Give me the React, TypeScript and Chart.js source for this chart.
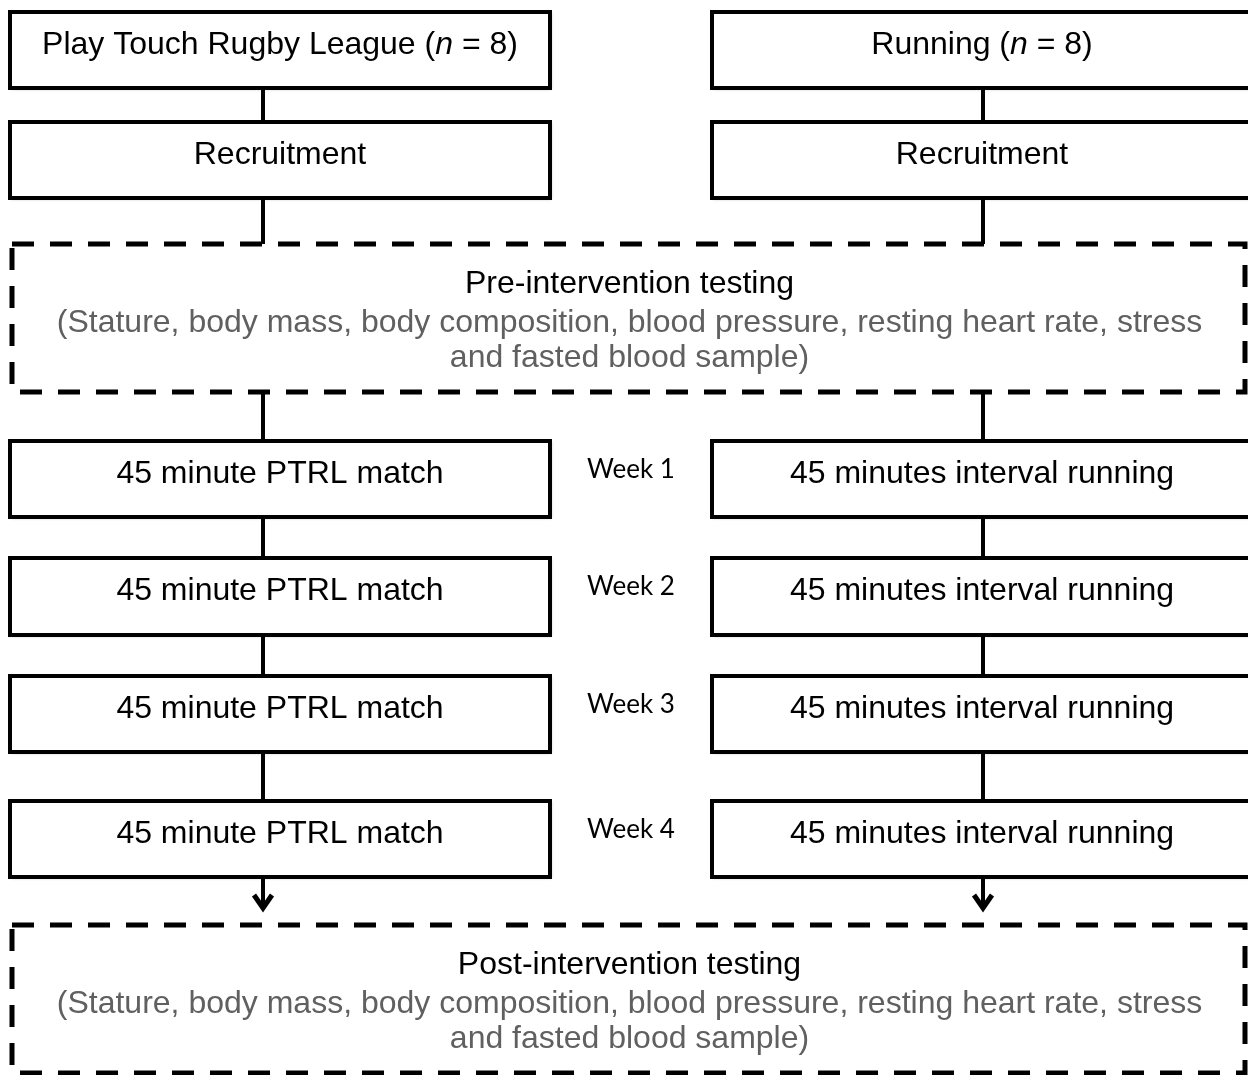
import React, { useEffect, useRef } from 'react';
import { Chart, registerables } from 'chart.js';

Chart.register(...registerables);

// ---- Content ----
const groupTitles: string[][] = [
  ['Play Touch Rugby League (', 'n', ' = 8)'],
  ['Running (', 'n', ' = 8)'],
];
const recruitmentLabels = ['Recruitment', 'Recruitment'];
const weekLabels = ['Week 1', 'Week 2', 'Week 3', 'Week 4'];
const sessionLabels = ['45 minute PTRL match', '45 minutes interval running'];
const testingTitles = ['Pre-intervention testing', 'Post-intervention testing'];
const testingDetails = [
  '(Stature, body mass, body composition, blood pressure, resting heart rate, stress',
  'and fasted blood sample)',
];

// ---- Layout (data units = pixels of the 1248x1075 figure) ----
const W = 1248;
const H = 1075;
const columns = [
  { x0: 10, x1: 550, lineX: 263, textX: 280 },
  { x0: 712, x1: 1252, lineX: 983, textX: 982 },
];
const topRow = [12, 88];
const recruitRow = [122, 198];
const preRow = [244, 392];
const weekRows = [
  [441, 517],
  [558, 635],
  [676, 752],
  [801, 877],
];
const postRow = [925, 1073];
const dashedX = [12, 1245];
const weekLabelX = 631;
const arrowTipY = 910;

const MAIN_FONT = '"Liberation Sans", Arial, sans-serif';
const WEEK_FONT = 'Lato, "Open Sans", sans-serif';
const FS = 32;

const flowPlugin = {
  id: 'flow',
  afterDraw(chart: any) {
    const ctx: CanvasRenderingContext2D = chart.ctx;
    const xs = chart.scales.x;
    const ys = chart.scales.y;
    const px = (v: number) => xs.getPixelForValue(v);
    const py = (v: number) => ys.getPixelForValue(v);

    ctx.save();
    ctx.fillStyle = '#ffffff';
    ctx.fillRect(0, 0, chart.width, chart.height);

    // connectors
    ctx.strokeStyle = '#000';
    ctx.lineWidth = 4;
    ctx.setLineDash([]);
    const segs: number[][] = [
      [topRow[1], recruitRow[0]],
      [recruitRow[1], preRow[0]],
      [preRow[1], weekRows[0][0]],
      [weekRows[0][1], weekRows[1][0]],
      [weekRows[1][1], weekRows[2][0]],
      [weekRows[2][1], weekRows[3][0]],
      [weekRows[3][1], arrowTipY - 3],
    ];
    columns.forEach((c) => {
      segs.forEach(([a, b]) => {
        ctx.beginPath();
        ctx.moveTo(px(c.lineX), py(a));
        ctx.lineTo(px(c.lineX), py(b));
        ctx.stroke();
      });
      ctx.save();
      ctx.lineWidth = 5;
      ctx.lineJoin = 'miter';
      ctx.beginPath();
      ctx.moveTo(px(c.lineX - 9), py(arrowTipY - 15));
      ctx.lineTo(px(c.lineX), py(arrowTipY - 2));
      ctx.lineTo(px(c.lineX + 9), py(arrowTipY - 15));
      ctx.stroke();
      ctx.restore();
    });

    const solidBox = (x0: number, x1: number, r: number[]) => {
      ctx.save();
      ctx.shadowColor = 'rgba(0,0,0,0.35)';
      ctx.shadowBlur = 3;
      ctx.shadowOffsetX = 1;
      ctx.shadowOffsetY = 1;
      ctx.fillStyle = '#fff';
      ctx.fillRect(px(x0), py(r[0]), px(x1) - px(x0), py(r[1]) - py(r[0]));
      ctx.restore();
      ctx.strokeStyle = '#000';
      ctx.lineWidth = 4;
      ctx.setLineDash([]);
      ctx.strokeRect(px(x0), py(r[0]), px(x1) - px(x0), py(r[1]) - py(r[0]));
    };

    const text = (s: string, x: number, y: number, font: string, color: string) => {
      ctx.font = font;
      ctx.fillStyle = color;
      ctx.textAlign = 'center';
      ctx.textBaseline = 'alphabetic';
      ctx.fillText(s, px(x), py(y));
    };

    const normal = `${FS}px ${MAIN_FONT}`;
    const italic = `italic ${FS}px ${MAIN_FONT}`;

    columns.forEach((c, i) => {
      solidBox(c.x0, c.x1, topRow);
      const parts = groupTitles[i];
      ctx.font = normal;
      const w0 = ctx.measureText(parts[0]).width;
      const w2 = ctx.measureText(parts[2]).width;
      ctx.font = italic;
      const w1 = ctx.measureText(parts[1]).width;
      const total = w0 + w1 + w2;
      let x = px(c.textX) - total / 2;
      const y = py(topRow[0] + 42);
      ctx.textAlign = 'left';
      ctx.textBaseline = 'alphabetic';
      ctx.fillStyle = '#000';
      ctx.font = normal;
      ctx.fillText(parts[0], x, y);
      x += w0;
      ctx.font = italic;
      ctx.fillText(parts[1], x, y);
      x += w1;
      ctx.font = normal;
      ctx.fillText(parts[2], x, y);

      solidBox(c.x0, c.x1, recruitRow);
      text(recruitmentLabels[i], c.textX, recruitRow[0] + 42, normal, '#000');

      weekRows.forEach((r) => {
        solidBox(c.x0, c.x1, r);
        text(sessionLabels[i], c.textX, r[0] + 42, normal, '#000');
      });
    });

    weekRows.forEach((r, k) => {
      text(weekLabels[k], weekLabelX, r[0] + 37, `26px ${WEEK_FONT}`, '#000');
    });

    const dashedBox = (r: number[], k: number) => {
      ctx.save();
      ctx.fillStyle = '#fff';
      ctx.fillRect(px(dashedX[0]), py(r[0]), px(dashedX[1]) - px(dashedX[0]), py(r[1]) - py(r[0]));
      ctx.strokeStyle = '#000';
      ctx.lineWidth = 5;
      ctx.lineCap = 'butt';
      ctx.setLineDash([22, 16]);
      ctx.strokeRect(px(dashedX[0]), py(r[0]), px(dashedX[1]) - px(dashedX[0]), py(r[1]) - py(r[0]));
      ctx.restore();
      const cx = (dashedX[0] + dashedX[1]) / 2 + 1;
      text(testingTitles[k], cx, r[0] + 49, normal, '#000');
      text(testingDetails[0], cx, r[0] + 88, normal, '#606060');
      text(testingDetails[1], cx, r[0] + 123, normal, '#606060');
    };
    dashedBox(preRow, 0);
    dashedBox(postRow, 1);

    ctx.restore();
  },
};

export default function App() {
  const ref = useRef<HTMLCanvasElement | null>(null);
  useEffect(() => {
    document.body.style.margin = '0';
    const canvas = ref.current;
    if (!canvas) return;
    const nodes = columns.map((c) => ({ x: c.textX, y: (topRow[0] + topRow[1]) / 2 }));
    const chart = new Chart(canvas, {
      type: 'scatter',
      data: {
        datasets: [
          {
            label: 'nodes',
            data: nodes,
            pointRadius: 0,
            showLine: false,
          },
        ],
      },
      options: {
        animation: false,
        responsive: false,
        devicePixelRatio: 1,
        layout: { padding: 0 },
        plugins: { legend: { display: false }, tooltip: { enabled: false } },
        scales: {
          x: { type: 'linear', min: 0, max: W, display: false },
          y: { type: 'linear', min: 0, max: H, reverse: true, display: false },
        },
      },
      plugins: [flowPlugin],
    });
    return () => chart.destroy();
  }, []);
  return (
    <div style={{ width: W, height: H, background: '#fff' }}>
      <canvas ref={ref} width={W} height={H} style={{ display: 'block' }} />
    </div>
  );
}
